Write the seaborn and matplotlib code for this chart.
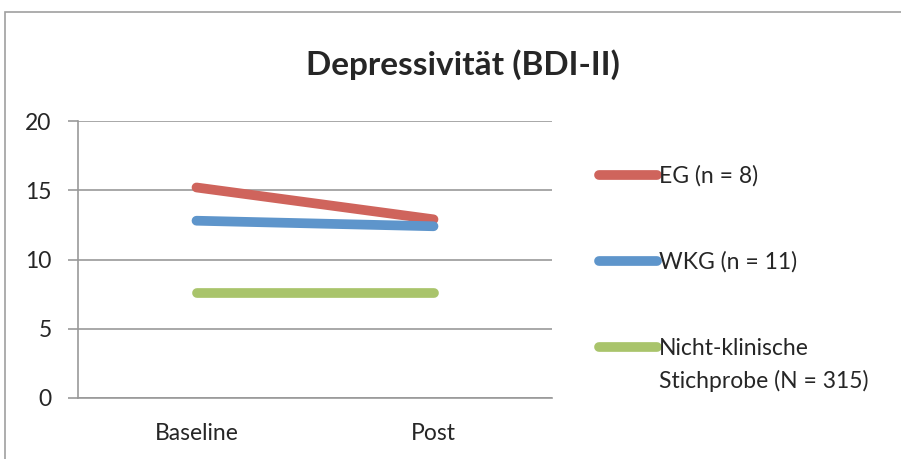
import pandas as pd
import matplotlib.pyplot as plt
import seaborn as sns

# Chart values
timepoints = ['Baseline', 'Post']
eg = [15.2, 12.9]
wkg = [12.8, 12.4]
nicht_klinisch = [7.6, 7.6]

groups = ['EG (n = 8)', 'WKG (n = 11)', 'Nicht-klinische\nStichprobe (N = 315)']
colors = ['#CF645C', '#5E95CB', '#A9C46B']

df = pd.DataFrame({
    'Zeitpunkt': timepoints * 3,
    'BDI': eg + wkg + nicht_klinisch,
    'Gruppe': [groups[0]] * 2 + [groups[1]] * 2 + [groups[2]] * 2,
})

sns.set_style('white')
plt.rcParams['font.family'] = ['Lato', 'DejaVu Sans']
fs = 16.5

fig = plt.figure(figsize=(9.01, 4.59), dpi=100)
ax = fig.add_axes([78 / 901, 1 - 398 / 459, (552 - 78) / 901, (398 - 121) / 459])

sns.lineplot(data=df, x='Zeitpunkt', y='BDI', hue='Gruppe', palette=colors,
             linewidth=7, solid_capstyle='round', ax=ax)

grid_col = '#999999'
ax.set_xlim(-0.5, 1.5)
ax.set_ylim(0, 20)
ax.set_yticks([0, 5, 10, 15, 20])
ax.set_xticks([0, 1])
ax.set_xticklabels(timepoints)
ax.set_xticks([-0.5, 0.5, 1.5], minor=True)
ax.tick_params(axis='x', which='major', length=0, labelsize=fs, pad=18)
ax.tick_params(axis='x', which='minor', length=7, width=1.2, color=grid_col, direction='out')
ax.tick_params(axis='y', length=7, width=1.2, color=grid_col, direction='out',
               labelsize=fs, pad=12, left=True)
ax.yaxis.grid(True, color=grid_col, linewidth=1.2)
ax.set_axisbelow(True)
for side in ['top', 'right']:
    ax.spines[side].set_visible(False)
for side in ['left', 'bottom']:
    ax.spines[side].set_color(grid_col)
    ax.spines[side].set_linewidth(1.2)
ax.set_xlabel('')
ax.set_ylabel('')

leg = ax.legend(loc='upper left', bbox_to_anchor=(599 / 901, 1 - 165 / 459),
                bbox_transform=fig.transFigure, frameon=False, fontsize=fs,
                handlelength=2.55, handleheight=1.2, handletextpad=0.05,
                labelspacing=2.74, borderpad=0, borderaxespad=0)
for line in leg.get_lines():
    line.set_linewidth(7)
    line.set_solid_capstyle('round')
for txt in leg.get_texts():
    txt.set_linespacing(1.65)
# align handles with the first text line
for col in leg._legend_handle_box.get_children():
    for entry in col.get_children():
        entry.align = 'top'

fig.text(463 / 901, 1 - 65 / 459, 'Depressivität (BDI-II)', ha='center', va='center',
         fontsize=24, fontweight='bold')

# chart frame (only top and left edges visible in the crop)
fig.patches.append(plt.Rectangle((5 / 901, -0.2), 2, 1.2 - 12 / 459,
                                 transform=fig.transFigure, fill=False,
                                 edgecolor='#A0A0A0', linewidth=1.2))

fig.savefig('out.png', dpi=100)
